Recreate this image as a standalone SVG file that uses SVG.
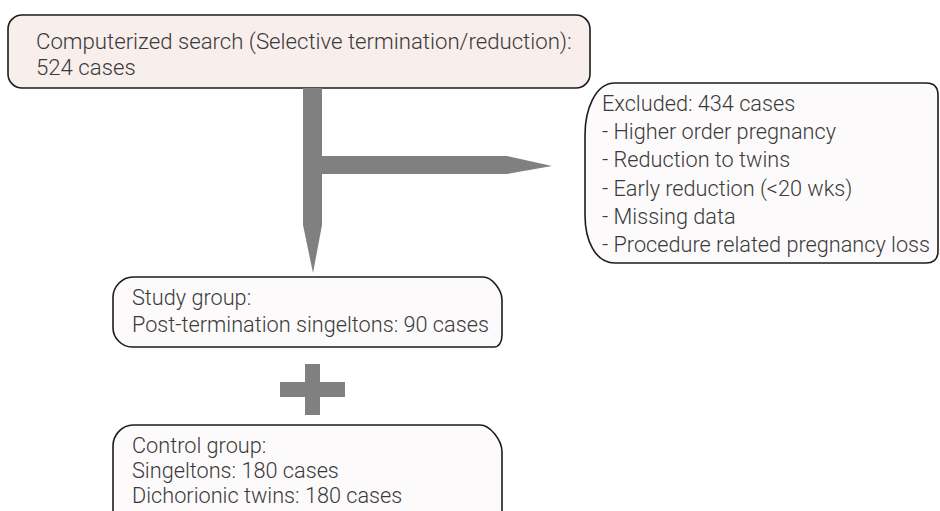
<svg xmlns="http://www.w3.org/2000/svg" width="940" height="511" viewBox="0 0 940 511">
<style>
.box{fill:#fcfafa;stroke:#1c1c1c;stroke-width:1.6}
.top{fill:#f8eeec;stroke:#1c1c1c;stroke-width:1.6}
.t{font-family:Roboto,"Liberation Sans",sans-serif;font-size:21.7px;font-weight:300;fill:#3a3a3a}
.tl{font-size:22.2px}
.conn{fill:#808080}
</style>
<rect width="940" height="511" fill="#ffffff"/>
<g id="search">
<rect class="top" x="8" y="15" width="582" height="73" rx="14"/>
<text class="t tl" x="36" y="49">Computerized search (Selective termination/reduction):</text>
<text class="t tl" x="36" y="75">524 cases</text>
</g>
<g id="connectors">
<path class="conn" d="M303 88 H322 V225 L313 273 L303 225 Z"/>
<path class="conn" d="M322 156 H507 L552 166 L507 174 H322 Z"/>
<path class="conn" d="M305 364 H320 V382 H345 V397 H320 V415 H305 V397 H280 V382 H305 Z"/>
</g>
<g id="excluded">
<path class="box" d="M615 83 H926 Q938 83 938 95 V251 Q938 263 926 263 H615 C595 263 585 240 585 215 V135 C585 110 595 83 615 83 Z"/>
<text class="t" x="602" y="111">Excluded: 434 cases</text>
<text class="t" x="602" y="139">- Higher order pregnancy</text>
<text class="t" x="602" y="167">- Reduction to twins</text>
<text class="t" x="602" y="196">- Early reduction (&lt;20 wks)</text>
<text class="t" x="602" y="224">- Missing data</text>
<text class="t" x="602" y="252">- Procedure related pregnancy loss</text>
</g>
<g id="study">
<path class="box" d="M133 277 H483 C492 277 502 290 502 300 V335 C502 342 499 347 494 347 H132 C122 347 113 338 113 328 V297 C113 287 122 277 133 277 Z"/>
<text class="t" x="132" y="305">Study group:</text>
<text class="t" x="132" y="332">Post-termination singeltons: 90 cases</text>
</g>
<g id="control">
<path class="box" d="M133 425 H480 C490 425 502 440 502 452 V525 H113 V446 C113 435 122 425 133 425 Z"/>
<text class="t" x="132" y="453">Control group:</text>
<text class="t" x="132" y="478">Singeltons: 180 cases</text>
<text class="t" x="132" y="503">Dichorionic twins: 180 cases</text>
</g>
</svg>
